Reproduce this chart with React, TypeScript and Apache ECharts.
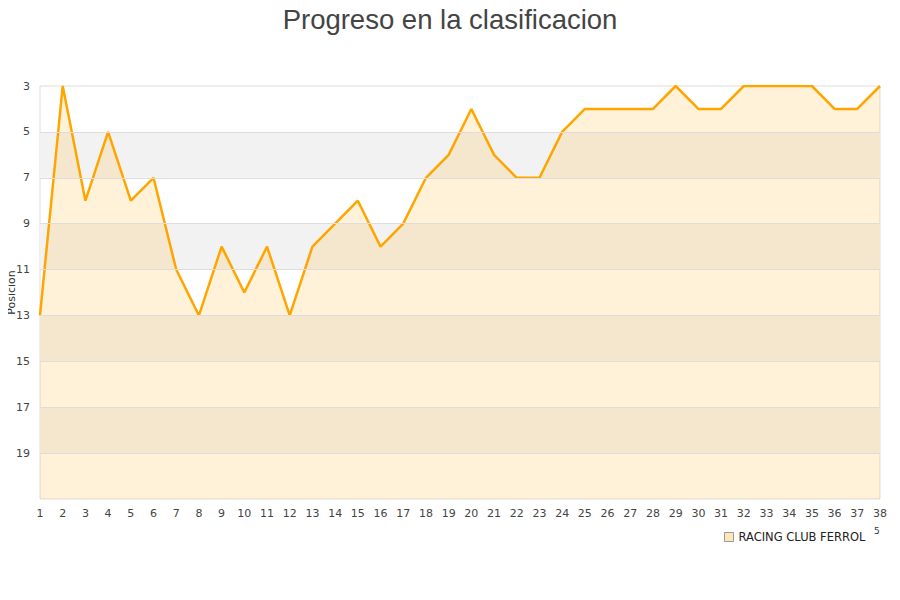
import React, { useEffect, useRef } from "react";
import * as echarts from "echarts";

const rounds: string[] = Array.from({ length: 38 }, (_, i) => String(i + 1));
const positions: number[] = [
  13, 3, 8, 5, 8, 7, 11, 13, 10, 12, 10, 13, 10, 9, 8, 10, 9, 7, 6, 4,
  6, 7, 7, 5, 4, 4, 4, 4, 3, 4, 4, 3, 3, 3, 3, 4, 4, 3,
];
const teamName = "RACING CLUB FERROL";
const titleText = "Progreso en la clasificacion";
const axisName = "Posicion";
const yMin = 3;
const yMax = 21;
const bandRanges: [number, number][] = [
  [5, 7],
  [9, 11],
  [13, 15],
  [17, 19],
];
const gridLineValues: number[] = [5, 7, 9, 11, 13, 15, 17, 19];

export default function App() {
  const ref = useRef<HTMLDivElement>(null);
  useEffect(() => {
    if (!ref.current) return;
    const chart = echarts.init(ref.current, undefined, { renderer: "svg" });
    chart.setOption({
      animation: false,
      backgroundColor: "#ffffff",
      title: {
        text: titleText,
        left: "center",
        top: 0,
        textStyle: {
          fontFamily: "Liberation Sans, Arial, sans-serif",
          fontSize: 27.5,
          fontWeight: "normal",
          color: "#444444",
        },
      },
      legend: {
        left: 719,
        top: 526,
        itemWidth: 9,
        itemHeight: 9,
        textStyle: {
          fontFamily: "DejaVu Sans, sans-serif",
          fontSize: 11.5,
          color: "#222222",
        },
        data: [
          {
            name: teamName,
            icon: "rect",
            itemStyle: { color: "#ffe6b8", borderColor: "#999999", borderWidth: 1 },
          },
        ],
      },
      graphic: [
        {
          type: "text",
          left: 874,
          top: 526,
          style: { text: "5", fontSize: 9, fill: "#333", fontFamily: "DejaVu Sans, sans-serif" },
        },
      ],
      grid: {
        left: 40,
        right: 20,
        top: 86,
        bottom: 101,
        containLabel: false,
        outerBoundsMode: "none",
        show: true,
        borderColor: "#dddddd",
        borderWidth: 1,
        backgroundColor: "transparent",
      },
      xAxis: {
        type: "category",
        data: rounds,
        boundaryGap: false,
        axisLine: { show: false },
        axisTick: { show: false },
        axisLabel: {
          interval: 0,
          margin: 9,
          fontFamily: "DejaVu Sans, sans-serif",
          fontSize: 11,
          color: "#444444",
        },
        splitLine: { show: false },
      },
      yAxis: {
        type: "value",
        inverse: true,
        min: yMin,
        max: yMax,
        interval: 1,
        name: axisName,
        nameLocation: "middle",
        nameGap: 23,
        nameMoveOverlap: false,
        nameTextStyle: {
          fontFamily: "DejaVu Sans, sans-serif",
          fontSize: 11,
          color: "#333333",
        },
        axisLine: { show: false },
        axisTick: { show: false },
        splitLine: { show: false },
        axisLabel: {
          margin: 10,
          fontFamily: "DejaVu Sans, sans-serif",
          fontSize: 11,
          color: "#444444",
          formatter: (v: number) => (v % 2 === 1 && v < yMax ? String(v) : ""),
        },
      },
      series: [
        {
          name: "bands",
          type: "line",
          z: 1,
          data: [],
          silent: true,
          markArea: {
            silent: true,
            itemStyle: { color: "#f2f2f2" },
            data: bandRanges.map(([a, b]) => [{ yAxis: a }, { yAxis: b }]),
          },
          markLine: {
            silent: true,
            symbol: "none",
            label: { show: false },
            lineStyle: { color: "#dddddd", width: 1, type: "solid" },
            data: gridLineValues.map((v) => ({ yAxis: v })),
          },
        },
        {
          name: teamName,
          type: "line",
          z: 3,
          data: positions,
          showSymbol: false,
          symbol: "none",
          lineStyle: { color: "#ffa500", width: 2.5 },
          itemStyle: { color: "#ffa500" },
          areaStyle: { color: "rgba(255,172,20,0.23)", origin: "end" },
        },
      ],
    });
    return () => chart.dispose();
  }, []);
  return <div ref={ref} style={{ width: 900, height: 600, margin: -8 }} />;
}
